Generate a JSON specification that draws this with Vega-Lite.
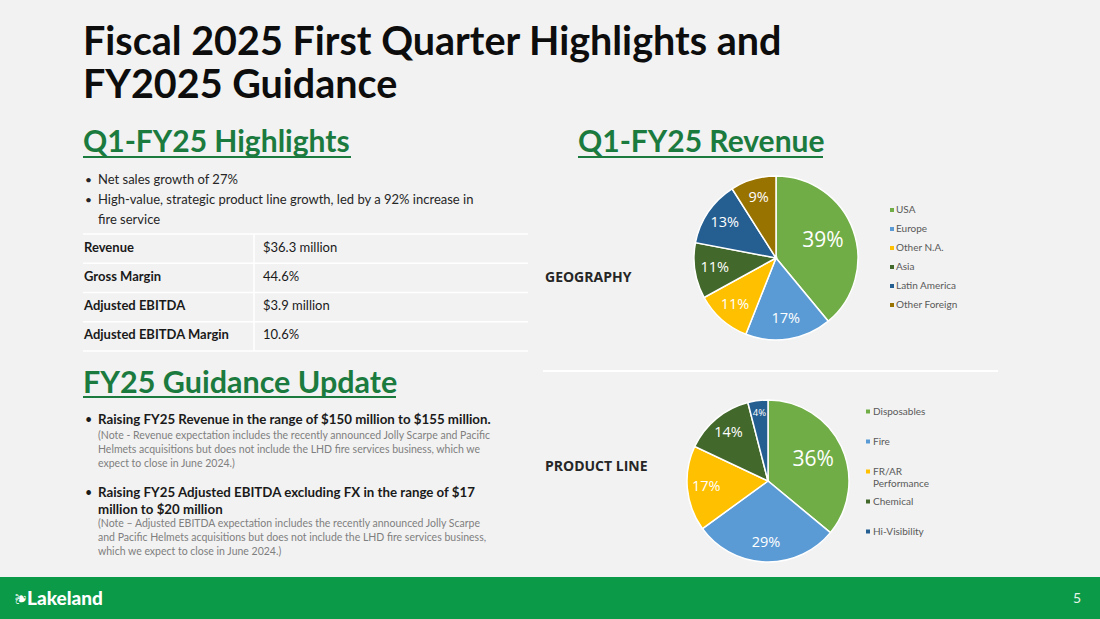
{
  "$schema": "https://vega.github.io/schema/vega-lite/v6.json",
  "width": 1100,
  "height": 619,
  "autosize": {"type": "fit", "contains": "padding"},
  "padding": 0,
  "background": "#f2f2f2",
  "config": {"view": {"stroke": null}, "text": {"font": "Lato"}, "legend": {"labelFont": "Lato"}},
  "resolve": {"scale": {"y": "independent", "color": "independent"}, "legend": {"color": "independent"}},
  "layer": [
    {
      "resolve": {"scale": {"color": "independent"}, "legend": {"color": "independent"}},
      "layer": [
        {
          "data": {"values": [{}]},
          "mark": {"type": "rect", "color": "#0b9a48"},
          "encoding": {
            "x": {"datum": 0, "type": "quantitative", "scale": {"domain": [0, 1100], "nice": false, "zero": false}, "axis": null},
            "x2": {"datum": 1100},
            "y": {"datum": 577, "type": "quantitative", "scale": {"domain": [0, 619], "nice": false, "zero": false, "reverse": true}, "axis": null},
            "y2": {"datum": 619}
          }
        },
        {
          "data": {"values": [{}]},
          "mark": {"type": "rule", "color": "#ffffff", "strokeWidth": 2},
          "encoding": {
            "x": {"datum": 543, "type": "quantitative", "scale": {"domain": [0, 1100], "nice": false, "zero": false}, "axis": null},
            "x2": {"datum": 998},
            "y": {"datum": 371, "type": "quantitative", "scale": {"domain": [0, 619], "nice": false, "zero": false, "reverse": true}, "axis": null}
          }
        },
        {
          "data": {"values": [{}]},
          "mark": {"type": "rule", "color": "#ffffff", "strokeWidth": 1.5},
          "encoding": {
            "x": {"datum": 83, "type": "quantitative", "scale": {"domain": [0, 1100], "nice": false, "zero": false}, "axis": null},
            "x2": {"datum": 528},
            "y": {"datum": 351, "type": "quantitative", "scale": {"domain": [0, 619], "nice": false, "zero": false, "reverse": true}, "axis": null}
          }
        },
        {
          "data": {"values": [{}]},
          "mark": {"type": "rule", "color": "#ffffff", "strokeWidth": 1.5},
          "encoding": {
            "x": {"datum": 254, "type": "quantitative", "scale": {"domain": [0, 1100], "nice": false, "zero": false}, "axis": null},
            "y": {"datum": 234, "type": "quantitative", "scale": {"domain": [0, 619], "nice": false, "zero": false, "reverse": true}, "axis": null},
            "y2": {"datum": 351}
          }
        },
        {
          "data": {"values": [{"t": "Fiscal 2025 First Quarter Highlights and"}]},
          "mark": {"type": "text", "align": "left", "baseline": "alphabetic", "fontSize": 39.5, "fontWeight": "bold", "color": "#0d0d0d"},
          "encoding": {
            "x": {"datum": 83, "type": "quantitative", "scale": {"domain": [0, 1100], "nice": false, "zero": false}, "axis": null},
            "y": {"datum": 55, "type": "quantitative", "scale": {"domain": [0, 619], "nice": false, "zero": false, "reverse": true}, "axis": null},
            "text": {"field": "t"}
          }
        },
        {
          "data": {"values": [{"t": "FY2025 Guidance"}]},
          "mark": {"type": "text", "align": "left", "baseline": "alphabetic", "fontSize": 39.5, "fontWeight": "bold", "color": "#0d0d0d"},
          "encoding": {
            "x": {"datum": 83, "type": "quantitative", "scale": {"domain": [0, 1100], "nice": false, "zero": false}, "axis": null},
            "y": {"datum": 98, "type": "quantitative", "scale": {"domain": [0, 619], "nice": false, "zero": false, "reverse": true}, "axis": null},
            "text": {"field": "t"}
          }
        },
        {
          "data": {"values": [{"t": "Q1-FY25 Highlights"}]},
          "mark": {"type": "text", "align": "left", "baseline": "alphabetic", "fontSize": 30, "fontWeight": "bold", "color": "#1b7a3e"},
          "encoding": {
            "x": {"datum": 83, "type": "quantitative", "scale": {"domain": [0, 1100], "nice": false, "zero": false}, "axis": null},
            "y": {"datum": 152, "type": "quantitative", "scale": {"domain": [0, 619], "nice": false, "zero": false, "reverse": true}, "axis": null},
            "text": {"field": "t"}
          }
        },
        {
          "data": {"values": [{}]},
          "mark": {"type": "rule", "color": "#1b7a3e", "strokeWidth": 2},
          "encoding": {
            "x": {"datum": 83, "type": "quantitative", "scale": {"domain": [0, 1100], "nice": false, "zero": false}, "axis": null},
            "x2": {"datum": 351},
            "y": {"datum": 157, "type": "quantitative", "scale": {"domain": [0, 619], "nice": false, "zero": false, "reverse": true}, "axis": null}
          }
        },
        {
          "data": {"values": [{"t": "Q1-FY25 Revenue"}]},
          "mark": {"type": "text", "align": "left", "baseline": "alphabetic", "fontSize": 30, "fontWeight": "bold", "color": "#1b7a3e"},
          "encoding": {
            "x": {"datum": 578, "type": "quantitative", "scale": {"domain": [0, 1100], "nice": false, "zero": false}, "axis": null},
            "y": {"datum": 152, "type": "quantitative", "scale": {"domain": [0, 619], "nice": false, "zero": false, "reverse": true}, "axis": null},
            "text": {"field": "t"}
          }
        },
        {
          "data": {"values": [{}]},
          "mark": {"type": "rule", "color": "#1b7a3e", "strokeWidth": 2},
          "encoding": {
            "x": {"datum": 578, "type": "quantitative", "scale": {"domain": [0, 1100], "nice": false, "zero": false}, "axis": null},
            "x2": {"datum": 823},
            "y": {"datum": 157, "type": "quantitative", "scale": {"domain": [0, 619], "nice": false, "zero": false, "reverse": true}, "axis": null}
          }
        },
        {
          "data": {"values": [{"t": "FY25 Guidance Update"}]},
          "mark": {"type": "text", "align": "left", "baseline": "alphabetic", "fontSize": 30.5, "fontWeight": "bold", "color": "#1b7a3e"},
          "encoding": {
            "x": {"datum": 83, "type": "quantitative", "scale": {"domain": [0, 1100], "nice": false, "zero": false}, "axis": null},
            "y": {"datum": 393, "type": "quantitative", "scale": {"domain": [0, 619], "nice": false, "zero": false, "reverse": true}, "axis": null},
            "text": {"field": "t"}
          }
        },
        {
          "data": {"values": [{}]},
          "mark": {"type": "rule", "color": "#1b7a3e", "strokeWidth": 2},
          "encoding": {
            "x": {"datum": 83, "type": "quantitative", "scale": {"domain": [0, 1100], "nice": false, "zero": false}, "axis": null},
            "x2": {"datum": 396},
            "y": {"datum": 397, "type": "quantitative", "scale": {"domain": [0, 619], "nice": false, "zero": false, "reverse": true}, "axis": null}
          }
        },
        {
          "data": {"values": [{"t": "•\n•"}]},
          "mark": {"type": "text", "align": "left", "baseline": "alphabetic", "fontSize": 12, "color": "#262626", "lineBreak": "\n", "lineHeight": 20},
          "encoding": {
            "x": {"datum": 85, "type": "quantitative", "scale": {"domain": [0, 1100], "nice": false, "zero": false}, "axis": null},
            "y": {"datum": 184, "type": "quantitative", "scale": {"domain": [0, 619], "nice": false, "zero": false, "reverse": true}, "axis": null},
            "text": {"field": "t"}
          }
        },
        {
          "data": {"values": [{"t": "Net sales growth of 27%\nHigh-value, strategic product line growth, led by a 92% increase in\nfire service"}]},
          "mark": {"type": "text", "align": "left", "baseline": "alphabetic", "fontSize": 13, "color": "#262626", "lineBreak": "\n", "lineHeight": 20},
          "encoding": {
            "x": {"datum": 98, "type": "quantitative", "scale": {"domain": [0, 1100], "nice": false, "zero": false}, "axis": null},
            "y": {"datum": 184, "type": "quantitative", "scale": {"domain": [0, 619], "nice": false, "zero": false, "reverse": true}, "axis": null},
            "text": {"field": "t"}
          }
        },
        {
          "data": {"values": [{"t": "•"}]},
          "mark": {"type": "text", "align": "left", "baseline": "alphabetic", "fontSize": 12.5, "color": "#1a1a1a"},
          "encoding": {
            "x": {"datum": 85, "type": "quantitative", "scale": {"domain": [0, 1100], "nice": false, "zero": false}, "axis": null},
            "y": {"datum": 424, "type": "quantitative", "scale": {"domain": [0, 619], "nice": false, "zero": false, "reverse": true}, "axis": null},
            "text": {"field": "t"}
          }
        },
        {
          "data": {"values": [{"t": "Raising FY25 Revenue in the range of $150 million to $155 million."}]},
          "mark": {"type": "text", "align": "left", "baseline": "alphabetic", "fontSize": 13.3, "fontWeight": "bold", "color": "#1a1a1a"},
          "encoding": {
            "x": {"datum": 98, "type": "quantitative", "scale": {"domain": [0, 1100], "nice": false, "zero": false}, "axis": null},
            "y": {"datum": 424, "type": "quantitative", "scale": {"domain": [0, 619], "nice": false, "zero": false, "reverse": true}, "axis": null},
            "text": {"field": "t"}
          }
        },
        {
          "data": {"values": [{"t": "(Note - Revenue expectation includes the recently announced Jolly Scarpe and Pacific\nHelmets acquisitions but does not include the LHD fire services business, which we\nexpect to close in June 2024.)"}]},
          "mark": {"type": "text", "align": "left", "baseline": "alphabetic", "fontSize": 10.5, "color": "#7f7f7f", "lineBreak": "\n", "lineHeight": 14},
          "encoding": {
            "x": {"datum": 98, "type": "quantitative", "scale": {"domain": [0, 1100], "nice": false, "zero": false}, "axis": null},
            "y": {"datum": 439, "type": "quantitative", "scale": {"domain": [0, 619], "nice": false, "zero": false, "reverse": true}, "axis": null},
            "text": {"field": "t"}
          }
        },
        {
          "data": {"values": [{"t": "•"}]},
          "mark": {"type": "text", "align": "left", "baseline": "alphabetic", "fontSize": 12.5, "color": "#1a1a1a"},
          "encoding": {
            "x": {"datum": 85, "type": "quantitative", "scale": {"domain": [0, 1100], "nice": false, "zero": false}, "axis": null},
            "y": {"datum": 497, "type": "quantitative", "scale": {"domain": [0, 619], "nice": false, "zero": false, "reverse": true}, "axis": null},
            "text": {"field": "t"}
          }
        },
        {
          "data": {"values": [{"t": "Raising FY25 Adjusted EBITDA excluding FX in the range of $17\nmillion to $20 million"}]},
          "mark": {"type": "text", "align": "left", "baseline": "alphabetic", "fontSize": 13.3, "fontWeight": "bold", "color": "#1a1a1a", "lineBreak": "\n", "lineHeight": 16.5},
          "encoding": {
            "x": {"datum": 98, "type": "quantitative", "scale": {"domain": [0, 1100], "nice": false, "zero": false}, "axis": null},
            "y": {"datum": 497, "type": "quantitative", "scale": {"domain": [0, 619], "nice": false, "zero": false, "reverse": true}, "axis": null},
            "text": {"field": "t"}
          }
        },
        {
          "data": {"values": [{"t": "(Note – Adjusted EBITDA expectation includes the recently announced Jolly Scarpe\nand Pacific Helmets acquisitions but does not include the LHD fire services business,\nwhich we expect to close in June 2024.)"}]},
          "mark": {"type": "text", "align": "left", "baseline": "alphabetic", "fontSize": 10.5, "color": "#7f7f7f", "lineBreak": "\n", "lineHeight": 13.8},
          "encoding": {
            "x": {"datum": 98, "type": "quantitative", "scale": {"domain": [0, 1100], "nice": false, "zero": false}, "axis": null},
            "y": {"datum": 527, "type": "quantitative", "scale": {"domain": [0, 619], "nice": false, "zero": false, "reverse": true}, "axis": null},
            "text": {"field": "t"}
          }
        },
        {
          "data": {"values": [{"t": "GEOGRAPHY"}]},
          "mark": {"type": "text", "align": "left", "baseline": "alphabetic", "fontSize": 14, "fontWeight": "bold", "font": "Open Sans", "color": "#262626"},
          "encoding": {
            "x": {"datum": 545, "type": "quantitative", "scale": {"domain": [0, 1100], "nice": false, "zero": false}, "axis": null},
            "y": {"datum": 282, "type": "quantitative", "scale": {"domain": [0, 619], "nice": false, "zero": false, "reverse": true}, "axis": null},
            "text": {"field": "t"}
          }
        },
        {
          "data": {"values": [{"t": "PRODUCT LINE"}]},
          "mark": {"type": "text", "align": "left", "baseline": "alphabetic", "fontSize": 14, "fontWeight": "bold", "font": "Open Sans", "color": "#262626"},
          "encoding": {
            "x": {"datum": 545, "type": "quantitative", "scale": {"domain": [0, 1100], "nice": false, "zero": false}, "axis": null},
            "y": {"datum": 471, "type": "quantitative", "scale": {"domain": [0, 619], "nice": false, "zero": false, "reverse": true}, "axis": null},
            "text": {"field": "t"}
          }
        },
        {
          "data": {"values": [{"t": "Lakeland"}]},
          "mark": {"type": "text", "align": "left", "baseline": "alphabetic", "fontSize": 19, "fontWeight": 900, "color": "#ffffff"},
          "encoding": {
            "x": {"datum": 27, "type": "quantitative", "scale": {"domain": [0, 1100], "nice": false, "zero": false}, "axis": null},
            "y": {"datum": 605, "type": "quantitative", "scale": {"domain": [0, 619], "nice": false, "zero": false, "reverse": true}, "axis": null},
            "text": {"field": "t"}
          }
        },
        {
          "data": {"values": [{"t": "❦"}]},
          "mark": {"type": "text", "align": "center", "baseline": "middle", "fontSize": 15, "color": "#ffffff", "angle": -90},
          "encoding": {
            "x": {"datum": 21, "type": "quantitative", "scale": {"domain": [0, 1100], "nice": false, "zero": false}, "axis": null},
            "y": {"datum": 598, "type": "quantitative", "scale": {"domain": [0, 619], "nice": false, "zero": false, "reverse": true}, "axis": null},
            "text": {"field": "t"}
          }
        },
        {
          "data": {"values": [{"t": "5"}]},
          "mark": {"type": "text", "align": "center", "baseline": "alphabetic", "fontSize": 14, "color": "#e6f4ea"},
          "encoding": {
            "x": {"datum": 1077, "type": "quantitative", "scale": {"domain": [0, 1100], "nice": false, "zero": false}, "axis": null},
            "y": {"datum": 603, "type": "quantitative", "scale": {"domain": [0, 619], "nice": false, "zero": false, "reverse": true}, "axis": null},
            "text": {"field": "t"}
          }
        },
        {
          "data": {"values": [
            {"region": "USA", "share": 0.39, "o": 1},
            {"region": "Europe", "share": 0.17, "o": 2},
            {"region": "Other N.A.", "share": 0.11, "o": 3},
            {"region": "Asia", "share": 0.11, "o": 4},
            {"region": "Latin America", "share": 0.13, "o": 5},
            {"region": "Other Foreign", "share": 0.09, "o": 6}
          ]},
          "encoding": {
            "x": {"datum": 776, "type": "quantitative", "scale": {"domain": [0, 1100], "nice": false, "zero": false}, "axis": null},
            "y": {"datum": 258, "type": "quantitative", "scale": {"domain": [0, 619], "nice": false, "zero": false, "reverse": true}, "axis": null},
            "theta": {"field": "share", "type": "quantitative", "stack": true},
            "order": {"field": "o", "type": "quantitative"}
          },
          "layer": [
            {
              "mark": {"type": "arc", "radius": 82, "stroke": "#ffffff", "strokeWidth": 1.5},
              "encoding": {
                "color": {
                  "field": "region", "type": "nominal",
                  "scale": {"domain": ["USA", "Europe", "Other N.A.", "Asia", "Latin America", "Other Foreign"], "range": ["#70ad47", "#5b9bd5", "#ffc000", "#43682b", "#255e91", "#997300"]},
                  "legend": {"orient": "none", "legendX": 887, "legendY": 205, "title": null, "symbolType": "square", "symbolSize": 16, "symbolStrokeWidth": 0, "labelFontSize": 10, "labelColor": "#595959", "rowPadding": 9, "padding": 0, "labelOffset": -1}
                }
              }
            },
            {
              "mark": {"type": "text", "radius": 50, "fontSize": 21, "color": "#ffffff", "font": "Open Sans", "align": "center", "baseline": "middle"},
              "encoding": {
                "detail": {"field": "region"},
                "text": {"condition": {"test": "datum.share >= 0.3", "field": "share", "type": "quantitative", "format": ".0%"}, "value": ""}
              }
            },
            {
              "mark": {"type": "text", "radius": 62, "fontSize": 14.5, "color": "#ffffff", "font": "Open Sans", "align": "center", "baseline": "middle"},
              "encoding": {
                "detail": {"field": "region"},
                "text": {"condition": {"test": "datum.share < 0.3", "field": "share", "type": "quantitative", "format": ".0%"}, "value": ""}
              }
            }
          ]
        },
        {
          "data": {"values": [
            {"line": "Disposables", "share": 0.36, "o": 1},
            {"line": "Fire", "share": 0.29, "o": 2},
            {"line": "FR/AR Performance", "share": 0.17, "o": 3},
            {"line": "Chemical", "share": 0.14, "o": 4},
            {"line": "Hi-Visibility", "share": 0.04, "o": 5}
          ]},
          "encoding": {
            "x": {"datum": 768, "type": "quantitative", "scale": {"domain": [0, 1100], "nice": false, "zero": false}, "axis": null},
            "y": {"datum": 481, "type": "quantitative", "scale": {"domain": [0, 619], "nice": false, "zero": false, "reverse": true}, "axis": null},
            "theta": {"field": "share", "type": "quantitative", "stack": true},
            "order": {"field": "o", "type": "quantitative"}
          },
          "layer": [
            {
              "mark": {"type": "arc", "radius": 81, "stroke": "#ffffff", "strokeWidth": 1.5},
              "encoding": {
                "color": {
                  "field": "line", "type": "nominal",
                  "scale": {"domain": ["Disposables", "Fire", "FR/AR Performance", "Chemical", "Hi-Visibility"], "range": ["#70ad47", "#5b9bd5", "#ffc000", "#43682b", "#255e91"]},
                  "legend": {"orient": "none", "legendX": 863, "legendY": 404.5, "title": null, "symbolType": "square", "symbolSize": 16, "symbolStrokeWidth": 0, "labelFontSize": 10, "labelColor": "#595959", "rowPadding": 6, "gridAlign": "all", "padding": 0, "labelOffset": 0, "clipHeight": 14, "labelExpr": "datum.label == 'FR/AR Performance' ? ['FR/AR', 'Performance'] : datum.label", "encode": {"labels": {"update": {"baseline": {"value": "top"}, "dy": {"value": -6}}}}}
                }
              }
            },
            {
              "mark": {"type": "text", "radius": 50, "fontSize": 21, "color": "#ffffff", "font": "Open Sans", "align": "center", "baseline": "middle"},
              "encoding": {
                "detail": {"field": "line"},
                "text": {"condition": {"test": "datum.share >= 0.3", "field": "share", "type": "quantitative", "format": ".0%"}, "value": ""}
              }
            },
            {
              "mark": {"type": "text", "radius": 62, "fontSize": 14.5, "color": "#ffffff", "font": "Open Sans", "align": "center", "baseline": "middle"},
              "encoding": {
                "detail": {"field": "line"},
                "text": {"condition": {"test": "datum.share < 0.3 && datum.share >= 0.05", "field": "share", "type": "quantitative", "format": ".0%"}, "value": ""}
              }
            },
            {
              "mark": {"type": "text", "radius": 69, "fontSize": 9.5, "color": "#ffffff", "font": "Open Sans", "align": "center", "baseline": "middle"},
              "encoding": {
                "detail": {"field": "line"},
                "text": {"condition": {"test": "datum.share < 0.05", "field": "share", "type": "quantitative", "format": ".0%"}, "value": ""}
              }
            }
          ]
        }
      ]
    },
    {
      "data": {"values": [
        {"metric": "Revenue", "value": "$36.3 million"},
        {"metric": "Gross Margin", "value": "44.6%"},
        {"metric": "Adjusted EBITDA", "value": "$3.9 million"},
        {"metric": "Adjusted EBITDA Margin", "value": "10.6%"}
      ]},
      "layer": [
        {
          "mark": {"type": "rule", "color": "#ffffff", "strokeWidth": 1.5},
          "encoding": {
            "x": {"datum": 83, "type": "quantitative", "scale": {"domain": [0, 1100], "nice": false, "zero": false}, "axis": null},
            "x2": {"datum": 528},
            "y": {"field": "metric", "type": "nominal", "bandPosition": 0, "scale": {"type": "band", "domain": ["Revenue", "Gross Margin", "Adjusted EBITDA", "Adjusted EBITDA Margin"], "range": [234, 351], "paddingInner": 0, "paddingOuter": 0}, "axis": null}
          }
        },
        {
          "mark": {"type": "text", "align": "left", "baseline": "middle", "dy": -1, "fontSize": 13, "fontWeight": "bold", "color": "#1a1a1a"},
          "encoding": {
            "x": {"datum": 84, "type": "quantitative", "scale": {"domain": [0, 1100], "nice": false, "zero": false}, "axis": null},
            "y": {"field": "metric", "type": "nominal", "bandPosition": 0.5, "scale": {"type": "band", "domain": ["Revenue", "Gross Margin", "Adjusted EBITDA", "Adjusted EBITDA Margin"], "range": [234, 351], "paddingInner": 0, "paddingOuter": 0}, "axis": null},
            "text": {"field": "metric"}
          }
        },
        {
          "mark": {"type": "text", "align": "left", "baseline": "middle", "dy": -1, "fontSize": 13, "color": "#1a1a1a"},
          "encoding": {
            "x": {"datum": 263, "type": "quantitative", "scale": {"domain": [0, 1100], "nice": false, "zero": false}, "axis": null},
            "y": {"field": "metric", "type": "nominal", "bandPosition": 0.5, "scale": {"type": "band", "domain": ["Revenue", "Gross Margin", "Adjusted EBITDA", "Adjusted EBITDA Margin"], "range": [234, 351], "paddingInner": 0, "paddingOuter": 0}, "axis": null},
            "text": {"field": "value"}
          }
        }
      ]
    }
  ]
}
